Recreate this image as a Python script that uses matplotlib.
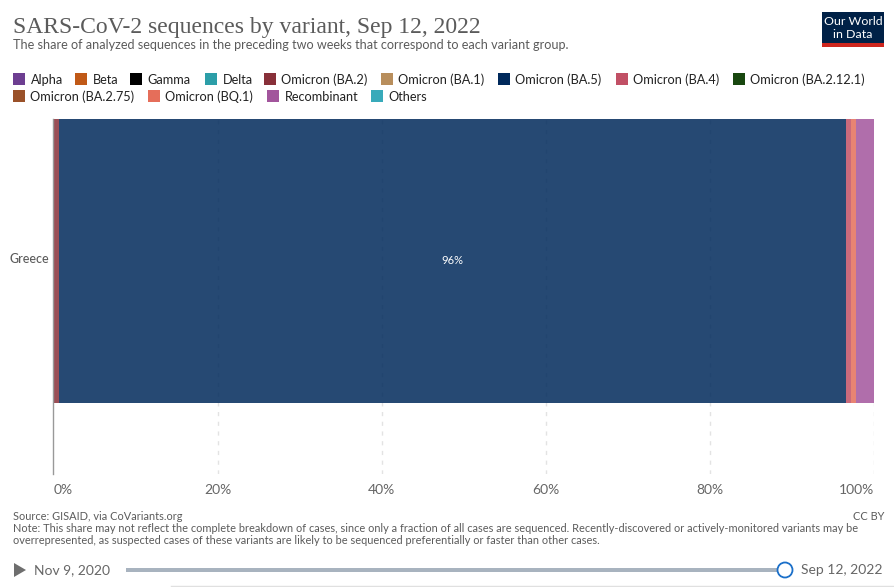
import matplotlib
matplotlib.use("Agg")
import matplotlib.pyplot as plt
from matplotlib.patches import Circle, Polygon, Rectangle

# Data
country = "Greece"
variants = ["Alpha", "Beta", "Gamma", "Delta", "Omicron (BA.2)", "Omicron (BA.1)",
            "Omicron (BA.5)", "Omicron (BA.4)", "Omicron (BA.2.12.1)",
            "Omicron (BA.2.75)", "Omicron (BQ.1)", "Recombinant", "Others"]
colors = ["#6D3E91", "#C05917", "#000000", "#2C9EA8", "#883039", "#B88E5C",
          "#00295B", "#C15065", "#18470F", "#9A5129", "#E56E5A", "#A2559C", "#38AABA"]
shares = [0, 0, 0, 0, 0.7, 0, 95.9, 0.6, 0, 0, 0.6, 2.2, 0]
tick_values = [0, 20, 40, 60, 80, 100]

# Legend layout in pixels
legend_x = [13, 75, 130, 205, 264, 381, 498, 616, 733, 13, 148, 267, 371]
legend_y = [79, 79, 79, 79, 79, 79, 79, 79, 79, 96, 96, 96, 96]

W, H = 895, 587
GREY = "#5b5b5b"
plt.rcParams["font.family"] = ["Lato", "DejaVu Sans"]

fig = plt.figure(figsize=(W / 100, H / 100), dpi=100, facecolor="white")

# Plot area, x 53.5-874 px and y 119-474 px
ax = fig.add_axes([53.5 / W, (H - 474) / H, 820.5 / W, 355 / H])
ax.set_xlim(0, 100)
ax.set_ylim(-0.75, 0.5)
ax.set_axisbelow(True)

left = 0
for name, color, share in zip(variants, colors, shares):
    if share > 0:
        ax.barh(0, share, left=left, height=1, color=color, alpha=0.85, linewidth=0)
        if share > 10:
            ax.text(left + share / 2, 0, f"{round(share)}%", color="white", fontsize=8,
                    ha="center", va="center")
    left += share

for v in tick_values[1:]:
    ax.axvline(v, color="#e3e3e3", linewidth=1, linestyle=(0, (3, 4)), zorder=0)
for side in ["top", "right", "bottom"]:
    ax.spines[side].set_visible(False)
ax.spines["left"].set_color("#999999")
ax.spines["left"].set_linewidth(1)

# Category label sits a little above the bar centre in the original
ax.set_yticks([])
ax.annotate(country, xy=(0, 0), xytext=(-3.2, 1.4), textcoords="offset points",
            ha="right", va="center", color=GREY, fontsize=9, fontweight="medium")

ax.set_xticks(tick_values, [f"{v}%" for v in tick_values])
ax.tick_params(axis="x", length=0, pad=7.5, labelsize=10, labelcolor="#666666")
tick_labels = ax.get_xticklabels()
tick_labels[0].set_ha("left")
tick_labels[-1].set_ha("right")

# Overlay in pixel coordinates for the surrounding text and controls
ov = fig.add_axes([0, 0, 1, 1], zorder=5)
ov.set_xlim(0, W)
ov.set_ylim(H, 0)
ov.axis("off")

ov.text(13, 33, "SARS-CoV-2 sequences by variant, Sep 12, 2022", family="Liberation Serif",
        fontsize=17.05, color=GREY, va="baseline")
ov.text(13, 45, "The share of analyzed sequences in the preceding two weeks that correspond "
        "to each variant group.", fontsize=9.12, color=GREY, va="center")

# Logo
ov.add_patch(Rectangle((822, 12), 62, 35, color="#002147", linewidth=0))
ov.add_patch(Rectangle((822, 43), 62, 4, color="#ce261e", linewidth=0))
ov.text(853, 21.5, "Our World", color="white", fontsize=8.9, ha="center", va="center")
ov.text(853, 35, "in Data", color="white", fontsize=8.9, ha="center", va="center")

# Legend
for name, color, x, y in zip(variants, colors, legend_x, legend_y):
    ov.add_patch(Rectangle((x, y - 6), 12, 12, color=color, linewidth=0))
    ov.text(x + 17.5, y + 0.8, name, fontsize=9.15, color="#222222", va="center")

# Footer
ov.text(13, 517, "Source: GISAID, via CoVariants.org", fontsize=7.95, color=GREY, va="center")
ov.text(884, 517, "CC BY", fontsize=7.95, color=GREY, va="center", ha="right")
ov.text(13, 529, "Note: This share may not reflect the complete breakdown of cases, since only a "
        "fraction of all cases are sequenced. Recently-discovered or actively-monitored variants "
        "may be", fontsize=7.91, color=GREY, va="center")
ov.text(13, 541, "overrepresented, as suspected cases of these variants are likely to be sequenced "
        "preferentially or faster than other cases.", fontsize=7.91, color=GREY, va="center")

# Timeline control
ov.add_patch(Polygon([(14, 563), (26, 570), (14, 577)], color="#6e6e6e", linewidth=0))
ov.text(34, 570, "Nov 9, 2020", fontsize=10, color="#666666", va="center")
ov.add_patch(Rectangle((126, 568), 659, 4, color="#a8b3bf", linewidth=0))
ov.add_patch(Circle((785, 570), 7.5, facecolor="white", edgecolor="#1a6fc9", linewidth=1.3))
ov.text(801, 570, "Sep 12, 2022", fontsize=10, color="#666666", va="center")
ov.plot([171, W], [586, 586], color="#e0e0e0", linewidth=1)

fig.savefig("out.png", dpi=100)
